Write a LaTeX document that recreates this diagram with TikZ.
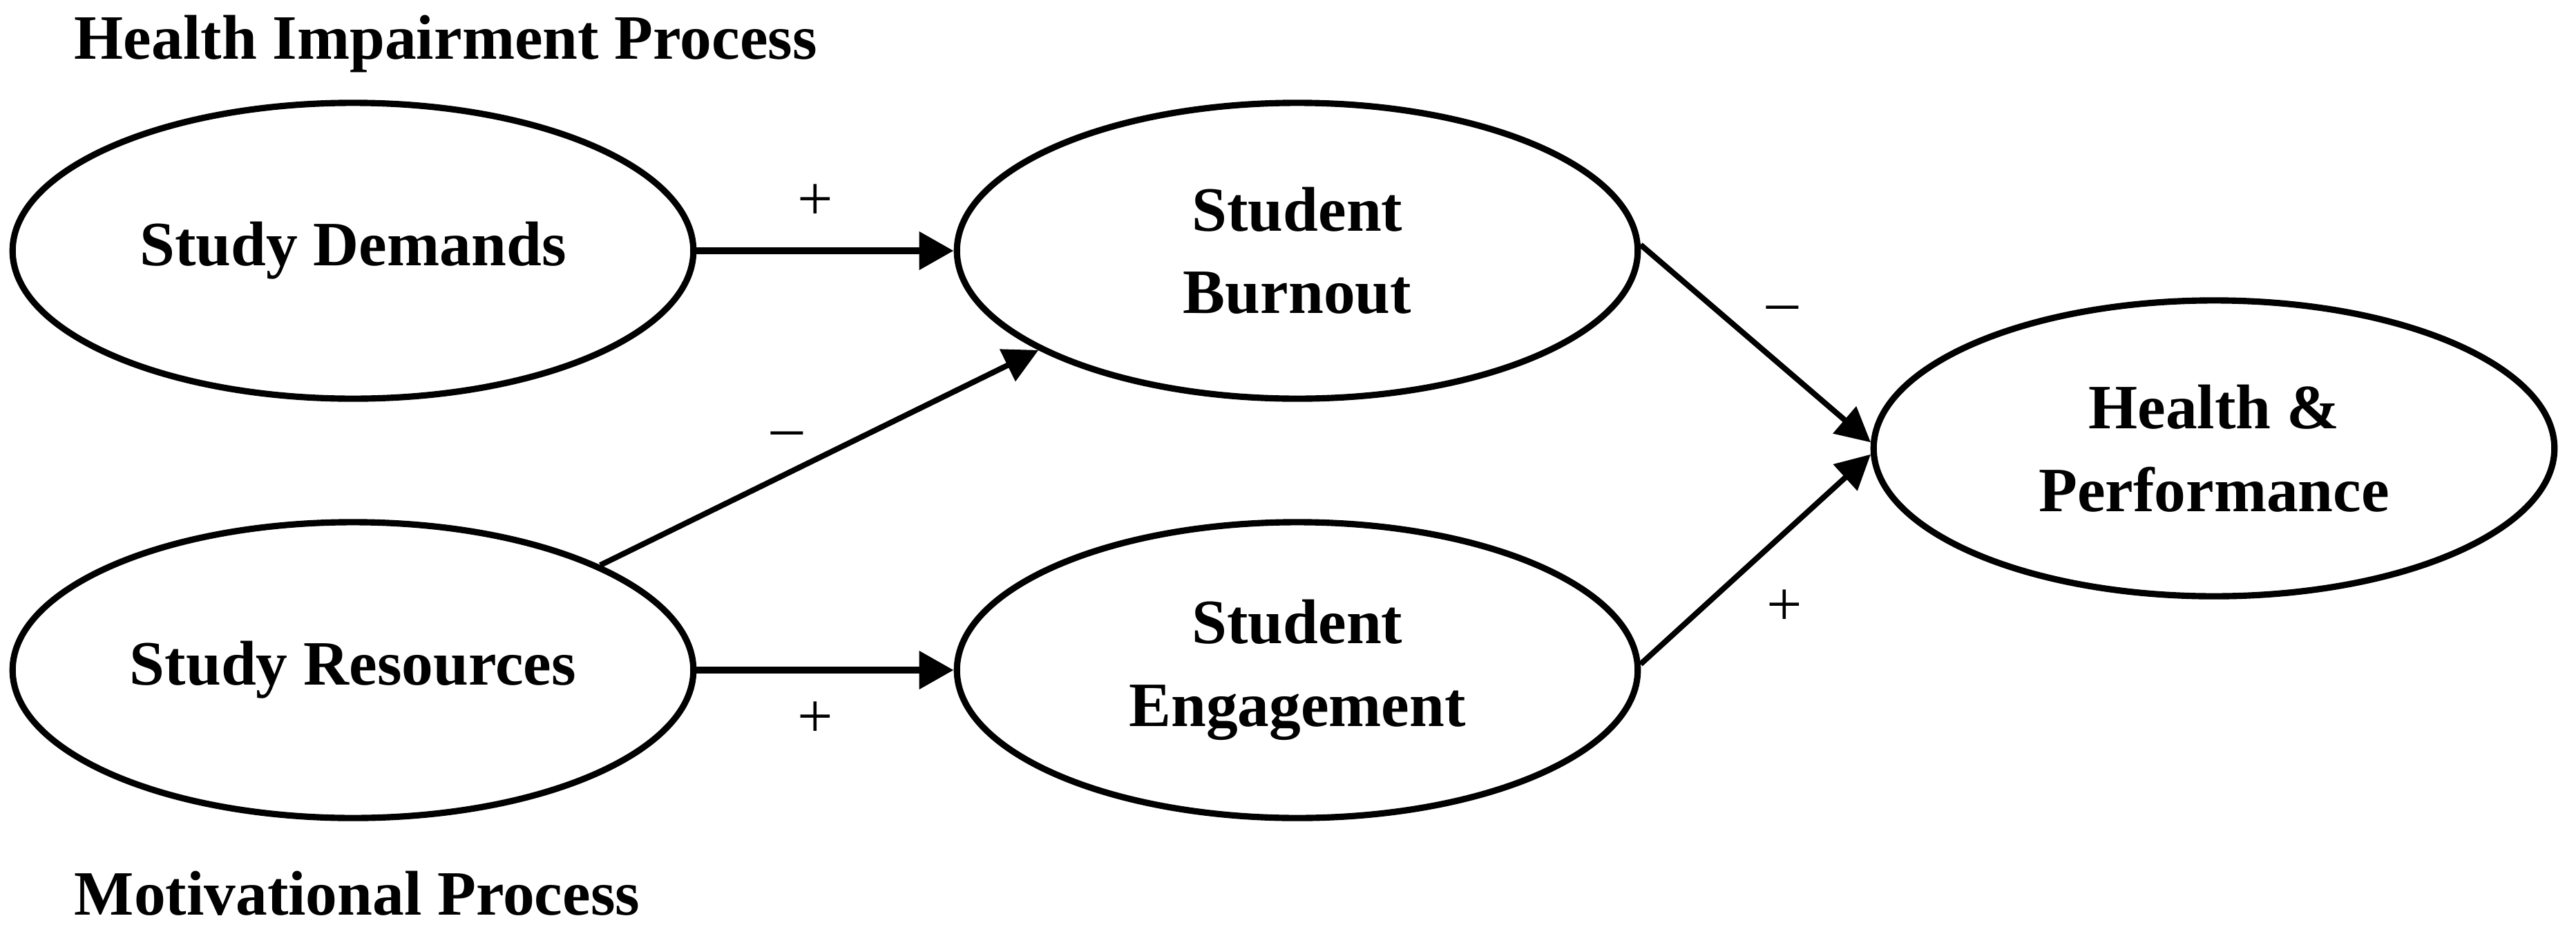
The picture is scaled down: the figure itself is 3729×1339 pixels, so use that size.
\documentclass[tikz,border=0pt]{standalone}
\usepackage{fontspec}
\setmainfont{Liberation Serif}
\usetikzlibrary{shapes.geometric,arrows.meta}
\begin{document}
\begin{tikzpicture}[x=0.01cm,y=-0.01cm,
  oval/.style={ellipse,draw,line width=2.6pt,minimum width=9.85cm,minimum height=4.28cm,inner sep=0pt,align=center,font=\fontsize{26}{34}\selectfont\bfseries},
  conn/.style={line width=3pt,-{Triangle[length=0.5cm,width=0.53cm]}},
  dconn/.style={line width=2.3pt,-{Triangle[length=0.5cm,width=0.5cm]}},
  sign/.style={inner sep=0pt,font=\fontsize{26}{30}\selectfont},
  ttl/.style={anchor=base west,inner sep=0pt,font=\fontsize{26}{30}\selectfont\bfseries}]
\useasboundingbox (0,0) rectangle (3729,1339);
\node[ttl] (t1) at (107,85) {Health Impairment Process};
\node[ttl] (t2) at (107,1324) {Motivational Process};
\node[oval] (SD) at (511,363) {Study Demands};
\node[oval] (SR) at (511,970) {Study Resources};
\node[oval] (SB) at (1878,363) {Student\\Burnout};
\node[oval] (SE) at (1878,970) {Student\\Engagement};
\node[oval] (HP) at (3205,649) {Health \&\\Performance};
\draw[conn] (SD.east) -- (SB.west);
\draw[conn] (SR.east) -- (SE.west);
\draw[dconn] (SR.23.5) -- (SB.201.5);
\draw[dconn] (SB.1) -- (HP.179);
\draw[dconn] (SE.1) -- (HP.181);
\node[sign] (s1) at (1180,293) {+};
\node[sign] (s2) at (1139,637) {–};
\node[sign] (s3) at (1180,1042) {+};
\node[sign] (s4) at (2580,455) {–};
\node[sign] (s5) at (2583,880) {+};
\end{tikzpicture}
\end{document}
